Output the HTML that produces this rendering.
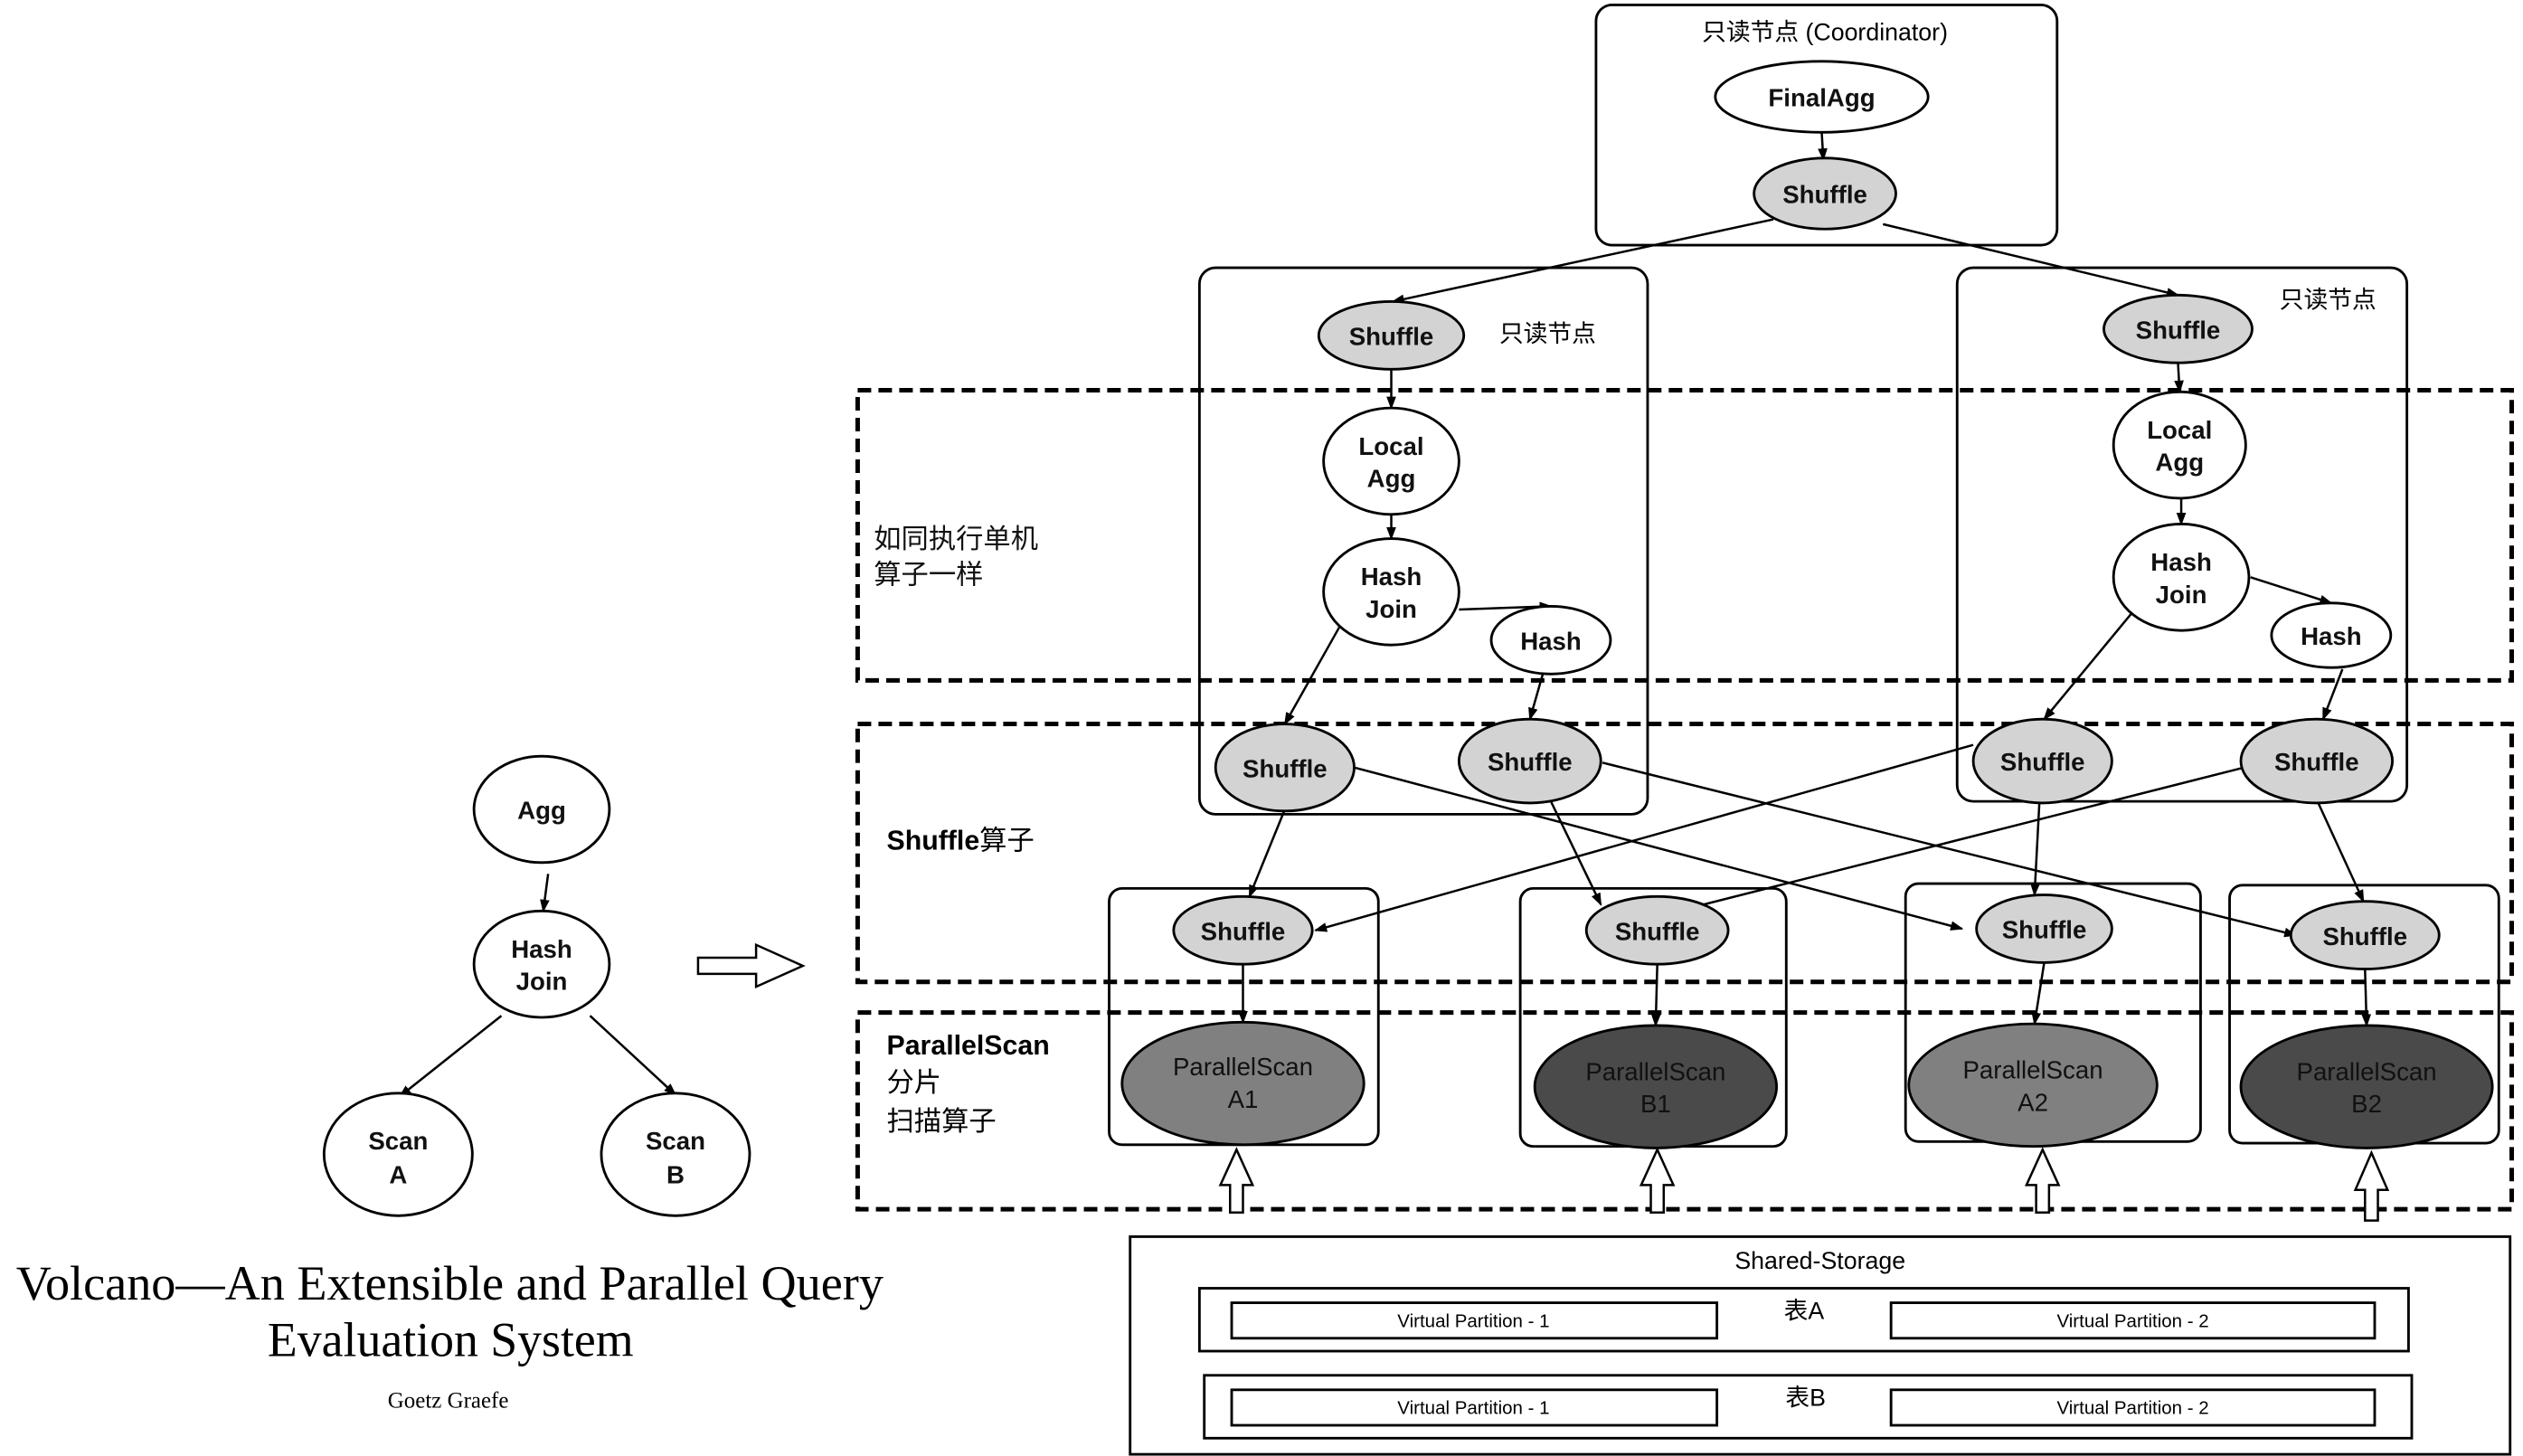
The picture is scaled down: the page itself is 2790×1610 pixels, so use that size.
<!DOCTYPE html>
<html><head><meta charset="utf-8"><style>
html,body{margin:0;padding:0;background:#fff;}
svg{display:block;}
text{font-family:"Liberation Sans","Noto Sans CJK SC",sans-serif;}
.n{font-size:15.5px;font-weight:bold;text-anchor:middle;fill:#111;}
.cj{font-size:16px;fill:#111;}
</style></head><body>
<svg width="2790" height="1610" viewBox="0 0 1565 903" xmlns="http://www.w3.org/2000/svg">
<defs>
<marker id="a" markerWidth="8" markerHeight="8" refX="7" refY="4" orient="auto" markerUnits="userSpaceOnUse"><path d="M0,1 L8,4 L0,7 Z" fill="#000"/></marker>
</defs>
<rect width="1565" height="903" fill="#fff"/>

<!-- dashed regions -->
<g fill="none" stroke="#000" stroke-width="2.8" stroke-dasharray="8.4,4.5">
<rect x="532" y="242" width="1026" height="180"/>
<rect x="532" y="449" width="1026" height="160"/>
<rect x="532" y="628" width="1026" height="122"/>
</g>

<!-- node boxes -->
<g fill="none" stroke="#000" stroke-width="1.6">
<rect x="990" y="3" width="286" height="149" rx="10"/>
<rect x="744" y="166" width="278" height="339" rx="10"/>
<rect x="1214" y="166" width="279" height="331" rx="10"/>
<rect x="688" y="551" width="167" height="159" rx="8"/>
<rect x="943" y="551" width="165" height="160" rx="8"/>
<rect x="1182" y="548" width="183" height="160" rx="8"/>
<rect x="1383" y="549" width="167" height="160" rx="8"/>
</g>

<!-- connectors -->
<g stroke="#000" stroke-width="1.4" fill="none" marker-end="url(#a)">
<line x1="1130" y1="82" x2="1131" y2="99"/>
<line x1="1100" y1="136" x2="864" y2="187"/>
<line x1="1168" y1="139" x2="1351" y2="183"/>
<line x1="863" y1="229" x2="863" y2="253"/>
<line x1="863" y1="319" x2="863" y2="334"/>
<line x1="905" y1="378" x2="962" y2="376"/>
<line x1="833" y1="385" x2="797" y2="449"/>
<line x1="957" y1="418" x2="949" y2="446"/>
<line x1="1351" y1="225" x2="1352" y2="243"/>
<line x1="1353" y1="309" x2="1353" y2="325"/>
<line x1="1396" y1="358" x2="1446" y2="374"/>
<line x1="1325" y1="377" x2="1268" y2="446"/>
<line x1="1453" y1="415" x2="1441" y2="446"/>
<line x1="797" y1="502" x2="775" y2="556"/>
<line x1="962" y1="497" x2="993" y2="561"/>
<line x1="1265" y1="498" x2="1262" y2="555"/>
<line x1="1438" y1="498" x2="1466" y2="559"/>
<line x1="840" y1="476" x2="1217" y2="576"/>
<line x1="994" y1="473" x2="1424" y2="580"/>
<line x1="1224" y1="462" x2="816" y2="577"/>
<line x1="1392" y1="476" x2="1033" y2="567"/>
<line x1="771" y1="598" x2="771" y2="634"/>
<line x1="1028" y1="598" x2="1027" y2="636"/>
<line x1="1268" y1="597" x2="1262" y2="635"/>
<line x1="1467" y1="601" x2="1468" y2="636"/>
<line x1="340" y1="542" x2="337" y2="565"/>
<line x1="311" y1="630" x2="248" y2="680"/>
<line x1="366" y1="630" x2="419" y2="679"/>
</g>

<!-- ellipses -->
<g stroke="#000" stroke-width="1.6">
<ellipse cx="1130" cy="60" rx="66" ry="22" fill="#fff"/>
<ellipse cx="1132" cy="120" rx="44" ry="22" fill="#d3d3d3"/>
<ellipse cx="863" cy="208" rx="45" ry="21" fill="#d3d3d3"/>
<ellipse cx="1351" cy="204" rx="46" ry="21" fill="#d3d3d3"/>
<ellipse cx="863" cy="286" rx="42" ry="33" fill="#fff"/>
<ellipse cx="863" cy="367" rx="42" ry="33" fill="#fff"/>
<ellipse cx="962" cy="397" rx="37" ry="21" fill="#fff"/>
<ellipse cx="1352" cy="276" rx="41" ry="33" fill="#fff"/>
<ellipse cx="1353" cy="358" rx="42" ry="33" fill="#fff"/>
<ellipse cx="1446" cy="394" rx="37" ry="20" fill="#fff"/>
<ellipse cx="797" cy="476" rx="43" ry="27" fill="#d3d3d3"/>
<ellipse cx="949" cy="472" rx="44" ry="26" fill="#d3d3d3"/>
<ellipse cx="1267" cy="472" rx="43" ry="26" fill="#d3d3d3"/>
<ellipse cx="1437" cy="472" rx="47" ry="26" fill="#d3d3d3"/>
<ellipse cx="771" cy="577" rx="43" ry="21" fill="#d3d3d3"/>
<ellipse cx="1028" cy="577" rx="44" ry="21" fill="#d3d3d3"/>
<ellipse cx="1268" cy="576" rx="42" ry="21" fill="#d3d3d3"/>
<ellipse cx="1467" cy="580" rx="46" ry="21" fill="#d3d3d3"/>
<ellipse cx="771" cy="672" rx="75" ry="38" fill="#808080"/>
<ellipse cx="1027" cy="674" rx="75" ry="38" fill="#4a4a4a"/>
<ellipse cx="1261" cy="673" rx="77" ry="38" fill="#808080"/>
<ellipse cx="1468" cy="674" rx="78" ry="38" fill="#4a4a4a"/>
<ellipse cx="336" cy="502" rx="42" ry="33" fill="#fff"/>
<ellipse cx="336" cy="598" rx="42" ry="33" fill="#fff"/>
<ellipse cx="247" cy="716" rx="46" ry="38" fill="#fff"/>
<ellipse cx="419" cy="716" rx="46" ry="38" fill="#fff"/>
</g>

<!-- node labels -->
<g class="n">
<text x="1130" y="66" class="n">FinalAgg</text>
<text x="1132" y="126" class="n">Shuffle</text>
<text x="863" y="214" class="n">Shuffle</text>
<text x="1351" y="210" class="n">Shuffle</text>
<text x="863" y="282" class="n">Local</text><text x="863" y="302" class="n">Agg</text>
<text x="863" y="363" class="n">Hash</text><text x="863" y="383" class="n">Join</text>
<text x="962" y="403" class="n">Hash</text>
<text x="1352" y="272" class="n">Local</text><text x="1352" y="292" class="n">Agg</text>
<text x="1353" y="354" class="n">Hash</text><text x="1353" y="374" class="n">Join</text>
<text x="1446" y="400" class="n">Hash</text>
<text x="797" y="482" class="n">Shuffle</text>
<text x="949" y="478" class="n">Shuffle</text>
<text x="1267" y="478" class="n">Shuffle</text>
<text x="1437" y="478" class="n">Shuffle</text>
<text x="771" y="583" class="n">Shuffle</text>
<text x="1028" y="583" class="n">Shuffle</text>
<text x="1268" y="582" class="n">Shuffle</text>
<text x="1467" y="586" class="n">Shuffle</text>
<text x="771" y="667" class="n" style="font-weight:normal">ParallelScan</text><text x="771" y="687" class="n" style="font-weight:normal">A1</text>
<text x="1027" y="670" class="n" style="font-weight:normal">ParallelScan</text><text x="1027" y="690" class="n" style="font-weight:normal">B1</text>
<text x="1261" y="669" class="n" style="font-weight:normal">ParallelScan</text><text x="1261" y="689" class="n" style="font-weight:normal">A2</text>
<text x="1468" y="670" class="n" style="font-weight:normal">ParallelScan</text><text x="1468" y="690" class="n" style="font-weight:normal">B2</text>
<text x="336" y="508" class="n">Agg</text>
<text x="336" y="594" class="n">Hash</text><text x="336" y="614" class="n">Join</text>
<text x="247" y="713" class="n">Scan</text><text x="247" y="734" class="n">A</text>
<text x="419" y="713" class="n">Scan</text><text x="419" y="734" class="n">B</text>
</g>

<!-- other labels -->
<text x="1132" y="25" style="font-size:15px;text-anchor:middle;">只读节点 (Coordinator)</text>
<text x="930" y="212" style="font-size:15px;">只读节点</text>
<text x="1414" y="191" style="font-size:15px;">只读节点</text>
<text x="542" y="340" class="cj" style="font-size:17px">如同执行单机</text>
<text x="542" y="362" class="cj" style="font-size:17px">算子一样</text>
<text x="550" y="527" style="font-size:17px;"><tspan font-weight="bold">Shuffle</tspan>算子</text>
<text x="550" y="654" style="font-size:17px;font-weight:bold;">ParallelScan</text>
<text x="550" y="677" style="font-size:17px;">分片</text>
<text x="550" y="701" style="font-size:17px;">扫描算子</text>

<!-- hollow up arrows -->
<g fill="#fff" stroke="#000" stroke-width="1.4">
<path d="M767,713 L777,735 L771,735 L771,752 L763,752 L763,735 L757,735 Z"/>
<path d="M1028,713 L1038,735 L1032,735 L1032,752 L1024,752 L1024,735 L1018,735 Z"/>
<path d="M1267,713 L1277,735 L1271,735 L1271,752 L1263,752 L1263,735 L1257,735 Z"/>
<path d="M1471,715 L1481,738 L1475,738 L1475,757 L1467,757 L1467,738 L1461,738 Z"/>
<path d="M433,594 L469,594 L469,586 L498,599 L469,612 L469,604 L433,604 Z"/>
</g>

<!-- shared storage -->
<g fill="none" stroke="#000" stroke-width="1.6">
<rect x="701" y="767" width="856" height="135"/>
<rect x="744" y="799" width="750" height="39"/>
<rect x="764" y="808" width="301" height="22"/>
<rect x="1173" y="808" width="300" height="22"/>
<rect x="747" y="853" width="749" height="39"/>
<rect x="764" y="862" width="301" height="22"/>
<rect x="1173" y="862" width="300" height="22"/>
</g>
<text x="1129" y="787" style="font-size:15px;text-anchor:middle;">Shared-Storage</text>
<text x="1119" y="818" style="font-size:15px;text-anchor:middle;">表A</text>
<text x="1120" y="872" style="font-size:15px;text-anchor:middle;">表B</text>
<g style="font-size:11.5px;text-anchor:middle;">
<text x="914" y="823">Virtual Partition - 1</text>
<text x="1323" y="823">Virtual Partition - 2</text>
<text x="914" y="877">Virtual Partition - 1</text>
<text x="1323" y="877">Virtual Partition - 2</text>
</g>

<!-- title -->
<text x="10" y="806" textLength="538" lengthAdjust="spacingAndGlyphs" style="font-family:'Liberation Serif',serif;font-size:30px;">Volcano—An Extensible and Parallel Query</text>
<text x="166" y="841" textLength="227" lengthAdjust="spacingAndGlyphs" style="font-family:'Liberation Serif',serif;font-size:30px;">Evaluation System</text>
<text x="278" y="873" style="font-family:'Liberation Serif',serif;font-size:14px;text-anchor:middle;">Goetz Graefe</text>
</svg>
</body></html>
